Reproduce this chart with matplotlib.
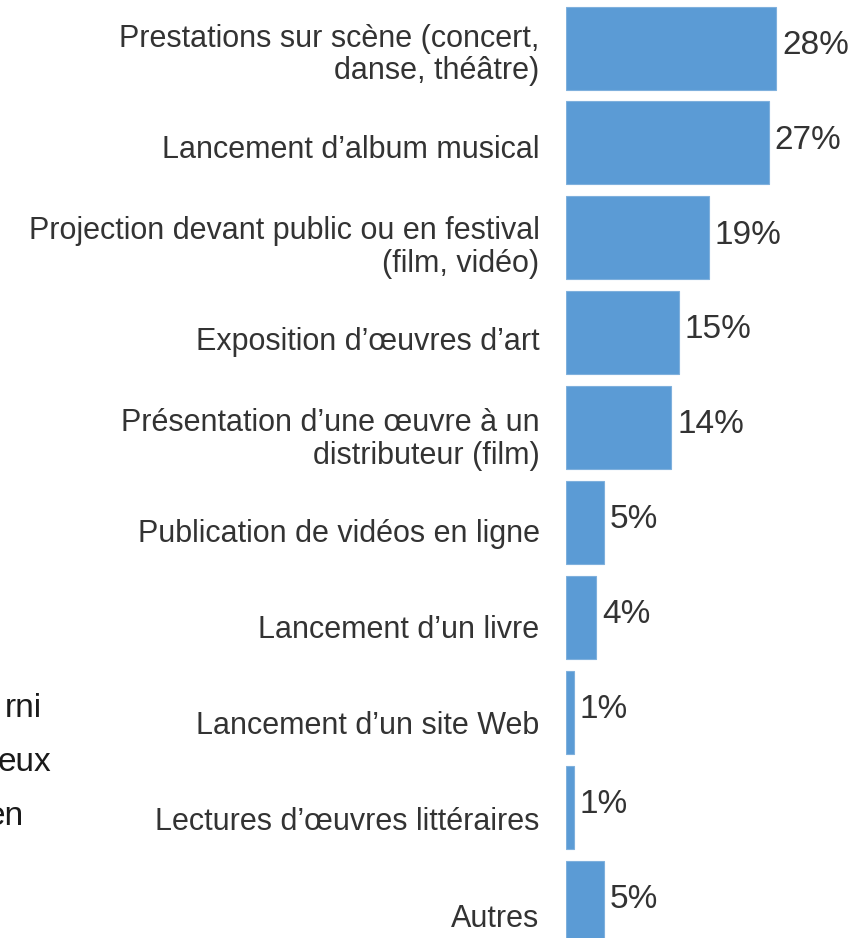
import matplotlib.pyplot as plt

plt.rcParams['font.family'] = ['Liberation Sans', 'DejaVu Sans']

# data
categories = ["Prestations sur scène (concert,\ndanse, théâtre)",
              "Lancement d’album musical",
              "Projection devant public ou en festival\n(film, vidéo)",
              "Exposition d’œuvres d’art",
              "Présentation d’une œuvre à un\ndistributeur (film)",
              "Publication de vidéos en ligne",
              "Lancement d’un livre",
              "Lancement d’un site Web",
              "Lectures d’œuvres littéraires",
              "Autres"]
values = [28, 27, 19, 15, 14, 5, 4, 1, 1, 5]
# pieces of a text block cut off at the left edge
side_text = ["rni", "eux", "en"]
side_right = [42, 51, 24]  # right edge of each piece, px

fig = plt.figure(figsize=(8.67, 9.38), dpi=100)
ax = fig.add_axes([566/867, 0, 300/867, 1])

pos = list(range(len(values)))
ax.barh(pos, values, height=0.875, color="#5B9BD5", edgecolor="#7FB0DD", linewidth=0.8)
ax.set_xlim(0, 40)
ax.set_ylim(9.378, -0.506)

for p, v in zip(pos, values):
    ax.annotate(f"{v}%", (v, p), xytext=(4.5, 2), textcoords="offset points",
                ha="left", va="center", fontsize=24, color="#333333")

# category labels sit a bit lower than bar centres as the list goes down
label_pos = [p + 0.028 + p * 0.012 for p in pos]
ax.set_yticks(label_pos)
ax.set_yticklabels(categories, fontsize=22, color="#333333", linespacing=1.1)
ax.tick_params(axis="y", length=0, pad=19)
ax.set_xticks([])
for s in ax.spines.values():
    s.set_visible(False)

for i, (t, r) in enumerate(zip(side_text, side_right)):
    fig.text(r/867, 1 - (708 + i * 54)/938, t, ha="right", va="center",
             fontsize=24, color="#1a1a1a")

fig.savefig("out.png", dpi=100)
